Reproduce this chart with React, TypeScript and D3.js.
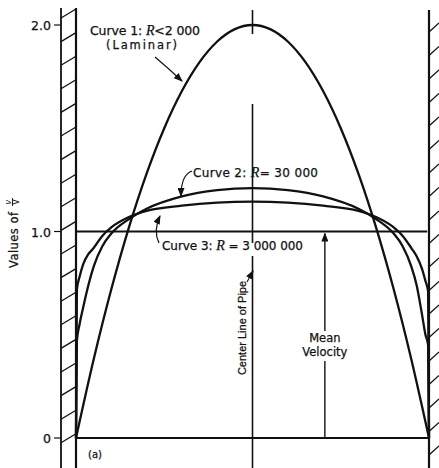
import React from "react";
import * as d3 from "d3";

// position across the pipe: -1 = left wall, 0 = centre line, 1 = right wall
const laminarPos = [-1, -0.9, -0.8, -0.7, -0.6, -0.5, -0.4, -0.3, -0.2, -0.1, 0, 0.1, 0.2, 0.3, 0.4, 0.5, 0.6, 0.7, 0.8, 0.9, 1];
const laminarVal = [0, 0.38, 0.72, 1.02, 1.28, 1.5, 1.68, 1.82, 1.92, 1.98, 2.0, 1.98, 1.92, 1.82, 1.68, 1.5, 1.28, 1.02, 0.72, 0.38, 0];

const turbPos = [-1, -0.995, -0.98, -0.96, -0.93, -0.9, -0.85, -0.8, -0.7, -0.6, -0.4, -0.2, 0, 0.2, 0.4, 0.6, 0.7, 0.8, 0.85, 0.9, 0.93, 0.96, 0.98, 0.995, 1];
const curve2Val = [0, 0.47, 0.55, 0.63, 0.74, 0.83, 0.93, 0.99, 1.06, 1.11, 1.17, 1.2, 1.21, 1.2, 1.17, 1.11, 1.06, 0.99, 0.93, 0.83, 0.74, 0.6, 0.5, 0.45, 0];
const curve3Val = [0, 0.72, 0.78, 0.84, 0.89, 0.92, 0.98, 1.02, 1.07, 1.1, 1.125, 1.14, 1.145, 1.14, 1.125, 1.1, 1.07, 1.02, 0.98, 0.92, 0.88, 0.82, 0.76, 0.71, 0];

const yTicks = [0, 1, 2];
const yTickLabels = ["0", "1.0", "2.0"];

const ink = "#111";
const font = "'DejaVu Sans', Arial, sans-serif";

export default function App() {
  const W = 439, H = 468;
  const x = d3.scaleLinear().domain([-1, 1]).range([76, 429]);
  const y = d3.scaleLinear().domain([0, 2]).range([438, 25]);

  const line = d3.line<[number, number]>()
    .x(d => x(d[0]))
    .y(d => y(d[1]))
    .curve(d3.curveMonotoneX);

  const c1 = line(laminarPos.map((p, i) => [p, laminarVal[i]]))!;
  const c2 = line(turbPos.map((p, i) => [p, curve2Val[i]]))!;
  const c3 = line(turbPos.map((p, i) => [p, curve3Val[i]]))!;

  const leftWallOuter = x(-1) - 15;
  const rightWall = x(1);
  const leftHatch = d3.range(18, 462, 23.6);
  const rightHatch = d3.range(32, 470, 23.5);
  const cx = x(0);
  const meanX = x(0.41);
  const txt = { fill: ink, stroke: ink, strokeWidth: 0.25 };

  return (
    <svg width={W} height={H} style={{ position: "absolute", left: 0, top: 0, background: "#fff" }}
      fontFamily={font}>
      <defs>
        <marker id="arr" markerUnits="userSpaceOnUse" markerWidth="9" markerHeight="7"
          refX="8" refY="3.5" orient="auto">
          <path d="M0,0 L9,3.5 L0,7 Z" fill={ink} />
        </marker>
      </defs>

      {/* left wall */}
      <line x1={leftWallOuter} x2={leftWallOuter} y1={8} y2={H} stroke={ink} strokeWidth={1.8} />
      <line x1={x(-1)} x2={x(-1)} y1={8} y2={H} stroke={ink} strokeWidth={2.2} />
      {leftHatch.map((h, i) => (
        <line key={"lh" + i} x1={leftWallOuter} y1={h} x2={x(-1)} y2={h - 9} stroke={ink} strokeWidth={1.3} />
      ))}

      {/* right wall */}
      <line x1={rightWall} x2={rightWall} y1={10} y2={H} stroke={ink} strokeWidth={2.2} />
      {rightHatch.map((h, i) => (
        <line key={"rh" + i} x1={rightWall} y1={h} x2={rightWall + 10} y2={h - 9} stroke={ink} strokeWidth={1.3} />
      ))}

      {/* y ticks */}
      {yTicks.map((t, i) => (
        <g key={"t" + i}>
          <line x1={leftWallOuter - 7} x2={leftWallOuter} y1={y(t)} y2={y(t)} stroke={ink} strokeWidth={1.2} />
          <text x={leftWallOuter - 10} y={y(t) + 5} textAnchor="end" fontSize={12.5} {...txt}>{yTickLabels[i]}</text>
        </g>
      ))}

      {/* y label */}
      <g transform="translate(18,240) rotate(-90)">
        <text x={0} y={0} textAnchor="middle" fontSize={11.5} textLength={56} {...txt}>Values of</text>
        <text x={38} y={-7} textAnchor="middle" fontSize={8} fontStyle="italic" fill={ink}>v</text>
        <line x1={34} x2={42} y1={-5.5} y2={-5.5} stroke={ink} strokeWidth={0.9} />
        <text x={38} y={1} textAnchor="middle" fontSize={8} fill={ink}>V</text>
      </g>

      {/* zero line and mean line */}
      <line x1={x(-1)} x2={x(1)} y1={y(0)} y2={y(0)} stroke={ink} strokeWidth={1.8} />
      <line x1={x(-1)} x2={x(0.99)} y1={y(1)} y2={y(1)} stroke={ink} strokeWidth={1.8} />

      {/* centre line */}
      {[[10, 34], [104, 243], [256, H]].map((s, i) => (
        <line key={"cl" + i} x1={cx} x2={cx} y1={s[0]} y2={s[1]} stroke={ink} strokeWidth={1.6} />
      ))}

      {/* curves */}
      <path d={c1} fill="none" stroke={ink} strokeWidth={2.3} />
      <path d={c2} fill="none" stroke={ink} strokeWidth={2.3} />
      <path d={c3} fill="none" stroke={ink} strokeWidth={2.3} />

      {/* curve 1 label */}
      <text x={90} y={35} fontSize={12.5} textLength={110} {...txt}>
        Curve 1: <tspan fontStyle="italic" fontFamily="'Liberation Serif', serif" fontSize={14}>R</tspan>{"<2 000"}
      </text>
      <text x={106} y={49} fontSize={11.5} textLength={71} {...txt}>(Laminar)</text>
      <path d="M155,57 Q168,68 182,81" fill="none" stroke={ink} strokeWidth={1.2} markerEnd="url(#arr)" />

      {/* curve 2 label */}
      <text x={193} y={177} fontSize={12} textLength={125} {...txt}>
        Curve 2: <tspan fontStyle="italic" fontFamily="'Liberation Serif', serif" fontSize={14}>R</tspan>{"= 30 000"}
      </text>
      <path d="M192,171 Q181,175 181,196" fill="none" stroke={ink} strokeWidth={1.2} markerEnd="url(#arr)" />

      {/* curve 3 label */}
      <text x={162} y={250} fontSize={12} textLength={141} {...txt}>
        Curve 3: <tspan fontStyle="italic" fontFamily="'Liberation Serif', serif" fontSize={14}>R</tspan>{" = 3 000 000"}
      </text>
      <path d="M159,243 Q153,231 160,216" fill="none" stroke={ink} strokeWidth={1.2} markerEnd="url(#arr)" />

      {/* centre line label */}
      <text transform="translate(246,328) rotate(-90)" textAnchor="middle" fontSize={11}
        fontFamily="'Liberation Sans', Arial, sans-serif" {...txt}>Center Line of Pipe</text>
      <path d="M247,282 L253,271" fill="none" stroke={ink} strokeWidth={1.1} markerEnd="url(#arr)" />

      {/* mean velocity */}
      <line x1={meanX} x2={meanX} y1={331} y2={y(1) + 2} stroke={ink} strokeWidth={1.4} markerEnd="url(#arr)" />
      <line x1={meanX} x2={meanX} y1={361} y2={y(0)} stroke={ink} strokeWidth={1.4} />
      <text x={meanX} y={342} textAnchor="middle" fontSize={11.5} {...txt}>Mean</text>
      <text x={meanX} y={356} textAnchor="middle" fontSize={11.5} {...txt}>Velocity</text>

      <text x={88} y={458} fontSize={10} {...txt}>(a)</text>
    </svg>
  );
}
